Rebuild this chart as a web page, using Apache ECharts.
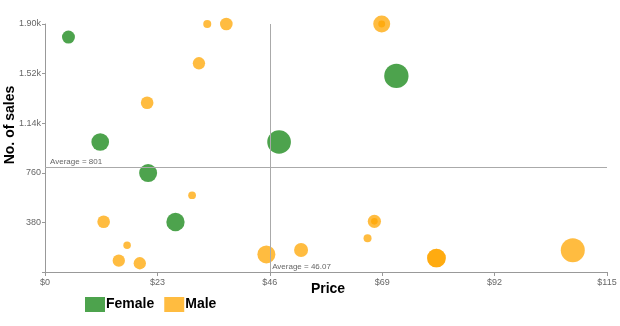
<!DOCTYPE html>
<html>
<head>
<meta charset="utf-8">
<script src="https://cdn.jsdelivr.net/npm/echarts@6/dist/echarts.min.js"></script>
<style>
  html, body { margin: 0; padding: 0; background: #fff; }
  #chart { width: 620px; height: 326px; }
</style>
</head>
<body>
<div id="chart"></div>
<script>
// Price ($), number of sales, bubble weight
const femaleData = [
  [4.8, 1800, 42],
  [11.3, 996, 78],
  [21.1, 758, 81],
  [26.7, 383, 84],
  [47.9, 996, 140],
  [71.9, 1502, 148]
];
const maleData = [
  [33.2, 1900, 16],
  [37.1, 1900, 40],
  [68.9, 1900, 72],
  [68.9, 1900, 12],
  [31.5, 1599, 38],
  [20.9, 1297, 40],
  [30.1, 588, 15],
  [12.0, 385, 40],
  [16.8, 205, 14],
  [15.1, 87, 38],
  [19.4, 67, 38],
  [45.3, 135, 81],
  [52.4, 168, 49],
  [67.4, 388, 44],
  [67.4, 388, 11],
  [66.0, 258, 16],
  [80.1, 107, 87],
  [80.1, 107, 87],
  [108.0, 166, 144]
];
const avgPrice = 46.07;
const avgSales = 801;
const xTicks = { min: 0, max: 115, step: 23 };
const yTicks = { min: 0, max: 1900, step: 380 };

const chart = echarts.init(document.getElementById('chart'), null, { renderer: 'canvas' });
const bubbleSize = d => Math.sqrt(d[2]) * 2;
const axisGrey = '#999';
const font = 'Liberation Sans, Arial, sans-serif';

chart.setOption({
  animation: false,
  grid: { left: 45, right: 13, top: 24, bottom: 54, outerBoundsMode: 'none', containLabel: false },
  legend: {
    left: 80, top: 292,
    itemWidth: 20, itemHeight: 15, itemGap: 10,
    icon: 'rect',
    textStyle: { fontFamily: font, fontWeight: 'bold', fontSize: 14, color: '#000', padding: [0, 0, 0, -4] },
    data: ['Female', 'Male']
  },
  xAxis: {
    type: 'value',
    min: xTicks.min, max: xTicks.max, interval: xTicks.step,
    name: 'Price', nameLocation: 'middle', nameGap: 10, nameMoveOverlap: false,
    nameTextStyle: { fontFamily: font, fontWeight: 'bold', fontSize: 14, color: '#000', padding: [0, 0, 0, 4] },
    axisLine: { show: true, lineStyle: { color: axisGrey } },
    axisTick: { show: true, length: 4, lineStyle: { color: axisGrey } },
    axisLabel: { color: '#666', fontSize: 9, fontFamily: font, margin: 6, formatter: v => '$' + v },
    splitLine: { show: false }
  },
  yAxis: {
    type: 'value',
    min: yTicks.min, max: yTicks.max, interval: yTicks.step,
    name: 'No. of sales', nameLocation: 'middle', nameGap: 28, nameRotate: 90, nameMoveOverlap: false,
    nameTextStyle: { fontFamily: font, fontWeight: 'bold', fontSize: 14, color: '#000', padding: [0, 0, 0, 46] },
    axisLine: { show: true, lineStyle: { color: axisGrey } },
    axisTick: { show: true, length: 3, lineStyle: { color: axisGrey } },
    axisLabel: {
      color: '#666', fontSize: 9, fontFamily: font, margin: 4,
      formatter: v => v === 0 ? '' : (v >= 1000 ? (v / 1000).toFixed(2) + 'k' : String(v))
    },
    splitLine: { show: false }
  },
  series: [
    {
      name: 'Female', type: 'scatter',
      data: femaleData, symbolSize: bubbleSize,
      itemStyle: { color: '#3E9B3E', opacity: 0.92 },
      emphasis: { disabled: true },
      markLine: {
        silent: true, symbol: 'none', animation: false,
        lineStyle: { color: '#aaa', type: 'solid', width: 1 },
        label: { show: false },
        data: [
          {
            yAxis: avgSales,
            label: {
              show: true, position: 'insideStartTop', distance: [5, 2],
              formatter: 'Average = ' + avgSales,
              color: '#666', fontSize: 8, fontFamily: font
            }
          },
          { xAxis: avgPrice }
        ]
      },
      markPoint: {
        silent: true, symbol: 'circle', symbolSize: 0, animation: false,
        data: [{
          coord: [avgPrice, 0],
          label: {
            show: true, position: 'inside', align: 'left', verticalAlign: 'bottom',
            offset: [2, -1],
            formatter: 'Average = ' + avgPrice,
            color: '#666', fontSize: 8, fontFamily: font
          }
        }]
      }
    },
    {
      name: 'Male', type: 'scatter',
      data: maleData, symbolSize: bubbleSize,
      itemStyle: { color: '#FFA500', opacity: 0.75 },
      emphasis: { disabled: true }
    }
  ]
});
</script>
</body>
</html>
